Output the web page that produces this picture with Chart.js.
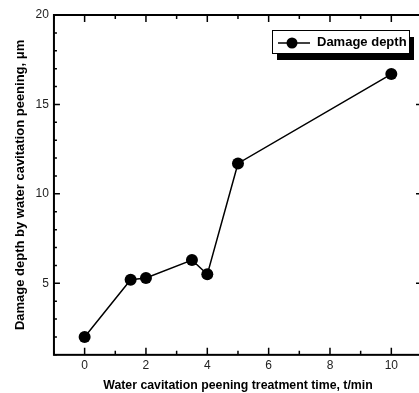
<!DOCTYPE html>
<html>
<head>
<meta charset="utf-8">
<script src="https://cdn.jsdelivr.net/npm/chart.js@4"></script>
<style>
  html, body { margin: 0; padding: 0; background: #fff; overflow: hidden; width: 419px; height: 393px; }
</style>
</head>
<body>
<canvas id="grafik" width="428" height="393"></canvas>
<script>
// data
const waktu = [0, 1.5, 2, 3.5, 4, 5, 10];            // treatment time, min
const kedalaman = [2.0, 5.2, 5.3, 6.3, 5.5, 11.7, 16.7]; // damage depth, um
const xTicks = [0, 2, 4, 6, 8, 10];
const yTicks = [5, 10, 15, 20];
const namaSeri = "Damage depth";

const fontLabel = "'Liberation Sans', Arial, sans-serif";

// frame with inward ticks on all four sides + legend box with shadow
const bingkai = {
    id: "bingkai",
    afterDraw(chart) {
        const ctx = chart.ctx;
        const a = chart.chartArea;
        const sx = chart.scales.x, sy = chart.scales.y;
        ctx.save();
        ctx.strokeStyle = "#000";
        ctx.lineWidth = 2;
        ctx.strokeRect(a.left, a.top, a.right - a.left, a.bottom - a.top);

        ctx.lineWidth = 1.5;
        ctx.beginPath();
        for (let v = sx.min; v <= sx.max; v++) {
            let px = sx.getPixelForValue(v);
            let len = (v % 2 === 0) ? 7 : 4;
            ctx.moveTo(px, a.bottom); ctx.lineTo(px, a.bottom - len);
            ctx.moveTo(px, a.top); ctx.lineTo(px, a.top + len);
        }
        for (let v = sy.min; v <= sy.max; v++) {
            let py = sy.getPixelForValue(v);
            let len = (v % 5 === 0) ? 6 : 3;
            ctx.moveTo(a.left, py); ctx.lineTo(a.left + len, py);
            ctx.moveTo(a.right, py); ctx.lineTo(a.right - len, py);
        }
        ctx.stroke();

        // legend
        let lx = a.right - 150, ly = a.top + 15, lw = 137, lh = 23;
        ctx.fillStyle = "#000";
        ctx.fillRect(lx + 5, ly + 7, lw, lh);
        ctx.fillStyle = "#fff";
        ctx.fillRect(lx, ly, lw, lh);
        ctx.lineWidth = 1;
        ctx.strokeStyle = "#000";
        ctx.strokeRect(lx + 0.5, ly + 0.5, lw, lh);
        ctx.lineWidth = 1.5;
        ctx.beginPath();
        ctx.moveTo(lx + 6, ly + 13); ctx.lineTo(lx + 38, ly + 13);
        ctx.stroke();
        ctx.beginPath();
        ctx.arc(lx + 20, ly + 13, 5.5, 0, Math.PI * 2);
        ctx.fillStyle = "#000";
        ctx.fill();
        ctx.font = "bold 13px " + fontLabel;
        ctx.textBaseline = "middle";
        ctx.textAlign = "left";
        ctx.fillText(namaSeri, lx + 45, ly + 12);
        ctx.restore();
    }
};

new Chart(document.getElementById("grafik"), {
    type: "line",
    data: {
        datasets: [{
            label: namaSeri,
            data: waktu.map((t, i) => ({ x: t, y: kedalaman[i] })),
            borderColor: "#000",
            borderWidth: 1.5,
            backgroundColor: "#000",
            pointRadius: 6,
            pointHoverRadius: 6,
            pointBorderWidth: 0,
            pointBackgroundColor: "#000",
            tension: 0
        }]
    },
    options: {
        responsive: false,
        animation: false,
        maintainAspectRatio: false,
        layout: { padding: { top: 15, right: 3, bottom: 0, left: 13 } },
        plugins: {
            legend: { display: false },
            tooltip: { enabled: false }
        },
        scales: {
            x: {
                type: "linear",
                min: -1,
                max: 11,
                grid: { display: false, drawTicks: false },
                border: { display: false },
                afterBuildTicks: s => { s.ticks = xTicks.map(v => ({ value: v })); },
                ticks: {
                    autoSkip: false,
                    maxRotation: 0,
                    padding: 4,
                    color: "#222",
                    font: { family: fontLabel, size: 12 }
                },
                title: {
                    display: true,
                    text: "Water cavitation peening treatment time, t/min",
                    color: "#000",
                    font: { family: fontLabel, size: 12.3, weight: "bold" },
                    padding: { top: 1, bottom: 0 }
                }
            },
            y: {
                min: 1,
                max: 20,
                grid: { display: false, drawTicks: false },
                border: { display: false },
                afterBuildTicks: s => { s.ticks = yTicks.map(v => ({ value: v })); },
                ticks: {
                    autoSkip: false,
                    padding: 5,
                    color: "#222",
                    font: { family: fontLabel, size: 12 }
                },
                title: {
                    display: true,
                    text: "Damage depth by water cavitation peening, μm",
                    color: "#000",
                    font: { family: fontLabel, size: 13, weight: "bold" },
                    padding: { top: 0, bottom: 2 }
                }
            }
        }
    },
    plugins: [bingkai]
});
</script>
</body>
</html>
